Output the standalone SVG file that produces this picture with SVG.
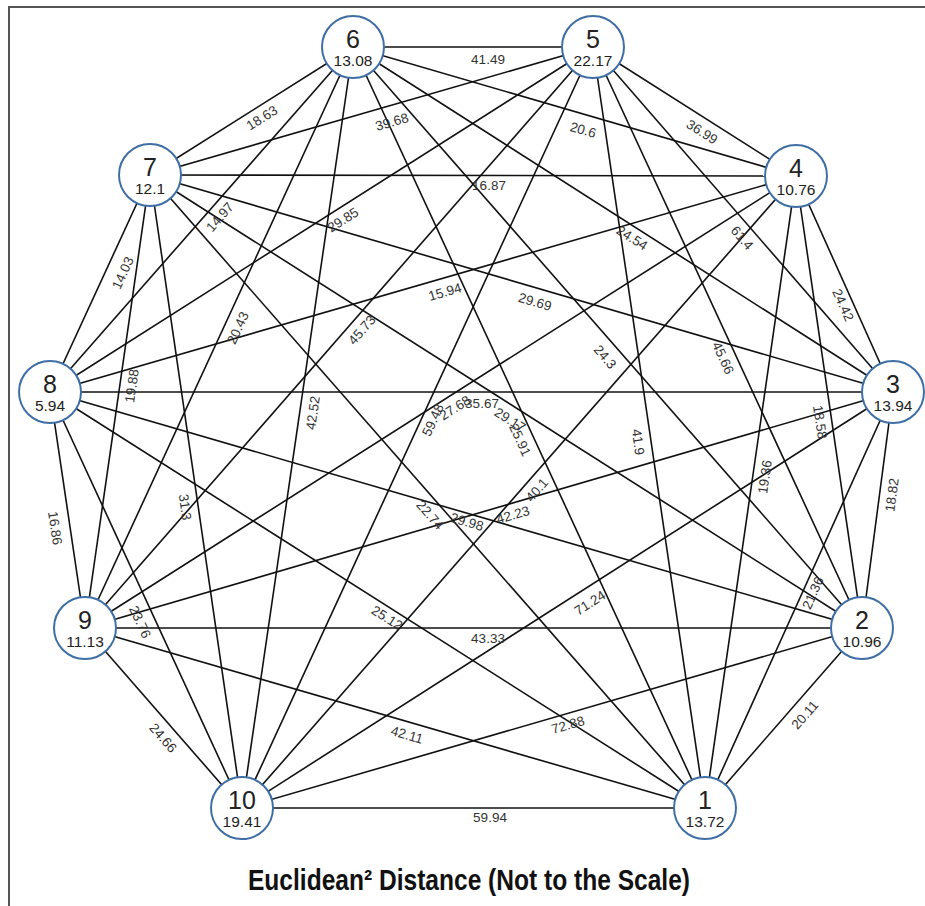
<svg xmlns="http://www.w3.org/2000/svg" width="925" height="906" viewBox="0 0 925 906">
<style>
.frame{stroke:#555;stroke-width:2;fill:none}
.e{stroke:#111;stroke-width:1.6;fill:none}
.nc{fill:#fff;stroke:#3f6ea6;stroke-width:2}
.nn{font-family:"Liberation Sans",Arial,sans-serif;font-size:25px;fill:#222;text-anchor:middle}
.nv{font-family:"Liberation Sans",Arial,sans-serif;font-size:15.5px;fill:#222;text-anchor:middle}
.el{font-family:"Liberation Sans",Arial,sans-serif;font-size:13.5px;fill:#333;text-anchor:middle;dominant-baseline:central}
.title{font-family:"Liberation Sans",Arial,sans-serif;font-size:29px;font-weight:bold;fill:#111;text-anchor:middle}
</style>
<rect width="925" height="906" fill="#fff"/>
<path class="frame" d="M9,906 V7 H925"/>
<g id="connectors">
<line class="e" x1="353" y1="47" x2="593" y2="47"/>
<line class="e" x1="353" y1="47" x2="150" y2="175"/>
<line class="e" x1="353" y1="47" x2="796" y2="176"/>
<line class="e" x1="353" y1="47" x2="50" y2="392"/>
<line class="e" x1="353" y1="47" x2="85" y2="628"/>
<line class="e" x1="353" y1="47" x2="242" y2="808"/>
<line class="e" x1="353" y1="47" x2="893" y2="392"/>
<line class="e" x1="353" y1="47" x2="862" y2="628"/>
<line class="e" x1="353" y1="47" x2="705" y2="808"/>
<line class="e" x1="593" y1="47" x2="150" y2="175"/>
<line class="e" x1="593" y1="47" x2="796" y2="176"/>
<line class="e" x1="593" y1="47" x2="50" y2="392"/>
<line class="e" x1="593" y1="47" x2="85" y2="628"/>
<line class="e" x1="593" y1="47" x2="242" y2="808"/>
<line class="e" x1="593" y1="47" x2="893" y2="392"/>
<line class="e" x1="593" y1="47" x2="862" y2="628"/>
<line class="e" x1="593" y1="47" x2="705" y2="808"/>
<line class="e" x1="150" y1="175" x2="796" y2="176"/>
<line class="e" x1="150" y1="175" x2="50" y2="392"/>
<line class="e" x1="150" y1="175" x2="85" y2="628"/>
<line class="e" x1="150" y1="175" x2="242" y2="808"/>
<line class="e" x1="150" y1="175" x2="893" y2="392"/>
<line class="e" x1="150" y1="175" x2="862" y2="628"/>
<line class="e" x1="150" y1="175" x2="705" y2="808"/>
<line class="e" x1="796" y1="176" x2="50" y2="392"/>
<line class="e" x1="796" y1="176" x2="85" y2="628"/>
<line class="e" x1="796" y1="176" x2="242" y2="808"/>
<line class="e" x1="796" y1="176" x2="893" y2="392"/>
<line class="e" x1="796" y1="176" x2="862" y2="628"/>
<line class="e" x1="796" y1="176" x2="705" y2="808"/>
<line class="e" x1="50" y1="392" x2="85" y2="628"/>
<line class="e" x1="50" y1="392" x2="242" y2="808"/>
<line class="e" x1="50" y1="392" x2="893" y2="392"/>
<line class="e" x1="50" y1="392" x2="862" y2="628"/>
<line class="e" x1="50" y1="392" x2="705" y2="808"/>
<line class="e" x1="85" y1="628" x2="242" y2="808"/>
<line class="e" x1="85" y1="628" x2="893" y2="392"/>
<line class="e" x1="85" y1="628" x2="862" y2="628"/>
<line class="e" x1="85" y1="628" x2="705" y2="808"/>
<line class="e" x1="242" y1="808" x2="893" y2="392"/>
<line class="e" x1="242" y1="808" x2="862" y2="628"/>
<line class="e" x1="242" y1="808" x2="705" y2="808"/>
<line class="e" x1="893" y1="392" x2="862" y2="628"/>
<line class="e" x1="893" y1="392" x2="705" y2="808"/>
<line class="e" x1="862" y1="628" x2="705" y2="808"/>
</g>
<g id="edge-labels">
<text class="el" transform="translate(488,59)">41.49</text>
<text class="el" transform="translate(262,118) rotate(-32.2)">18.63</text>
<text class="el" transform="translate(392,122) rotate(-16.1)">39.68</text>
<text class="el" transform="translate(583,130) rotate(16.2)">20.6</text>
<text class="el" transform="translate(702,132) rotate(32.4)">36.99</text>
<text class="el" transform="translate(489,185)">16.87</text>
<text class="el" transform="translate(220,217) rotate(-48.7)">14.97</text>
<text class="el" transform="translate(343,220) rotate(-32.4)">29.85</text>
<text class="el" transform="translate(123,273) rotate(-65.3)">14.03</text>
<text class="el" transform="translate(132,386) rotate(-81.8)">19.88</text>
<text class="el" transform="translate(238,328) rotate(-65.2)">20.43</text>
<text class="el" transform="translate(362,330) rotate(-48.8)">45.73</text>
<text class="el" transform="translate(313,413) rotate(-81.7)">42.52</text>
<text class="el" transform="translate(445,292) rotate(-16.1)">15.94</text>
<text class="el" transform="translate(535,302) rotate(16.3)">29.69</text>
<text class="el" transform="translate(632,238) rotate(32.6)">24.54</text>
<text class="el" transform="translate(742,238) rotate(49)">61.4</text>
<text class="el" transform="translate(843,305) rotate(65.8)">24.42</text>
<text class="el" transform="translate(605,357) rotate(48.8)">24.3</text>
<text class="el" transform="translate(723,358) rotate(65.2)">45.66</text>
<text class="el" transform="translate(638,442) rotate(81.6)">41.9</text>
<text class="el" transform="translate(765,477) rotate(-81.8)">19.36</text>
<text class="el" transform="translate(820,422) rotate(81.7)">18.58</text>
<text class="el" transform="translate(892,495) rotate(-82.5)">18.82</text>
<text class="el" transform="translate(813,593) rotate(-65.7)">21.36</text>
<text class="el" transform="translate(805,715) rotate(-48.9)">20.11</text>
<text class="el" transform="translate(568,725) rotate(-16.2)">72.88</text>
<text class="el" transform="translate(590,603) rotate(-32.6)">71.24</text>
<text class="el" transform="translate(488,638)">43.33</text>
<text class="el" transform="translate(490,817)">59.94</text>
<text class="el" transform="translate(407,735) rotate(16.2)">42.11</text>
<text class="el" transform="translate(387,618) rotate(32.4)">25.12</text>
<text class="el" transform="translate(163,738) rotate(48.9)">24.66</text>
<text class="el" transform="translate(140,622) rotate(65.2)">23.76</text>
<text class="el" transform="translate(185,507) rotate(81.7)">31.3</text>
<text class="el" transform="translate(55,528) rotate(81.6)">16.86</text>
<text class="el" transform="translate(433,420) rotate(-65.2)">59.48</text>
<text class="el" transform="translate(455,408) rotate(-32.4)">27.68</text>
<text class="el" transform="translate(482,403)">35.67</text>
<text class="el" transform="translate(510,420) rotate(32.5)">29.17</text>
<text class="el" transform="translate(520,440) rotate(65.2)">25.91</text>
<text class="el" transform="translate(537,490) rotate(-48.8)">40.1</text>
<text class="el" transform="translate(513,515) rotate(-16.3)">42.23</text>
<text class="el" transform="translate(467,522) rotate(16.2)">29.98</text>
<text class="el" transform="translate(430,515) rotate(48.8)">22.74</text>
</g>
<g id="node-6"><circle class="nc" cx="353" cy="47" r="31"/><text class="nn" x="353" y="48">6</text><text class="nv" x="353" y="66">13.08</text></g>
<g id="node-5"><circle class="nc" cx="593" cy="47" r="31"/><text class="nn" x="593" y="48">5</text><text class="nv" x="593" y="66">22.17</text></g>
<g id="node-7"><circle class="nc" cx="150" cy="175" r="31"/><text class="nn" x="150" y="176">7</text><text class="nv" x="150" y="194">12.1</text></g>
<g id="node-4"><circle class="nc" cx="796" cy="176" r="31"/><text class="nn" x="796" y="177">4</text><text class="nv" x="796" y="195">10.76</text></g>
<g id="node-8"><circle class="nc" cx="50" cy="392" r="31"/><text class="nn" x="50" y="393">8</text><text class="nv" x="50" y="411">5.94</text></g>
<g id="node-3"><circle class="nc" cx="893" cy="392" r="31"/><text class="nn" x="893" y="393">3</text><text class="nv" x="893" y="411">13.94</text></g>
<g id="node-9"><circle class="nc" cx="85" cy="628" r="31"/><text class="nn" x="85" y="629">9</text><text class="nv" x="85" y="647">11.13</text></g>
<g id="node-2"><circle class="nc" cx="862" cy="628" r="31"/><text class="nn" x="862" y="629">2</text><text class="nv" x="862" y="647">10.96</text></g>
<g id="node-10"><circle class="nc" cx="242" cy="808" r="31"/><text class="nn" x="242" y="809">10</text><text class="nv" x="242" y="827">19.41</text></g>
<g id="node-1"><circle class="nc" cx="705" cy="808" r="31"/><text class="nn" x="705" y="809">1</text><text class="nv" x="705" y="827">13.72</text></g>
<text class="title" x="469" y="890" textLength="442" lengthAdjust="spacingAndGlyphs">Euclidean² Distance (Not to the Scale)</text>
</svg>
